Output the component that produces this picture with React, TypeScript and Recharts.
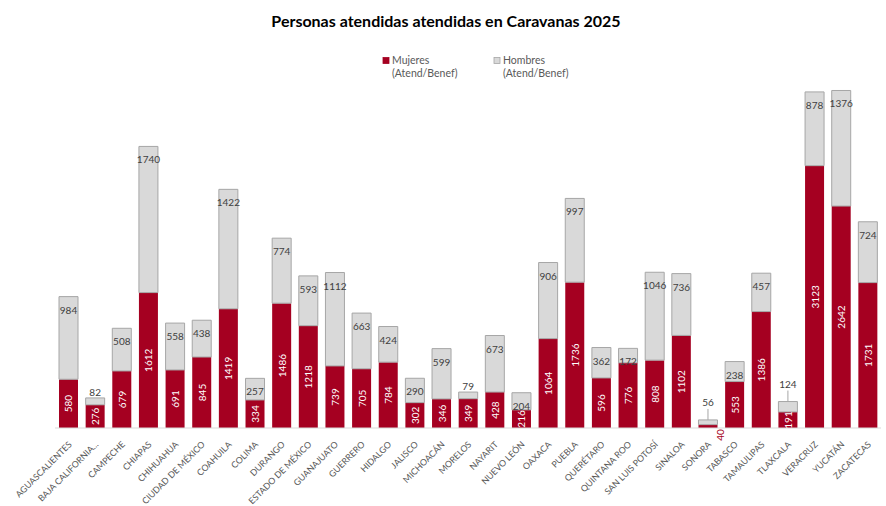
import { Bar, BarChart, XAxis, YAxis } from "recharts"

const estados = [
  "AGUASCALIENTES", "BAJA CALIFORNIA SUR", "CAMPECHE", "CHIAPAS", "CHIHUAHUA",
  "CIUDAD DE MÉXICO", "COAHUILA", "COLIMA", "DURANGO", "ESTADO DE MÉXICO",
  "GUANAJUATO", "GUERRERO", "HIDALGO", "JALISCO", "MICHOACÁN", "MORELOS",
  "NAYARIT", "NUEVO LEÓN", "OAXACA", "PUEBLA", "QUERÉTARO", "QUINTANA ROO",
  "SAN LUIS POTOSÍ", "SINALOA", "SONORA", "TABASCO", "TAMAULIPAS", "TLAXCALA",
  "VERACRUZ", "YUCATÁN", "ZACATECAS",
]

const mujeres = [
  580, 276, 679, 1612, 691, 845, 1419, 334, 1486, 1218, 739, 705, 784, 302, 346,
  349, 428, 216, 1064, 1736, 596, 776, 808, 1102, 40, 553, 1386, 191, 3123, 2642, 1731,
]

const hombres = [
  984, 82, 508, 1740, 558, 438, 1422, 257, 774, 593, 1112, 663, 424, 290, 599,
  79, 673, 204, 906, 997, 362, 172, 1046, 736, 56, 238, 457, 124, 878, 1376, 724,
]

// labels that Excel pulled up with a leader line
const conLinea = ["SONORA", "TLAXCALA"]

const ROJO = "#A50021"
const GRIS = "#D9D9D9"
const FONT = "Lato, 'Open Sans', sans-serif"

const data = estados.map((name, i) => ({ name, mujeres: mujeres[i], hombres: hombres[i] }))

const EstadoTick = ({ x, y, payload }: any) => {
  const v: string = payload.value
  const t = v.length > 18 ? v.slice(0, 15) + "..." : v
  return (
    <text
      transform={`translate(${x + 4},${y + 9}) rotate(-45)`}
      textAnchor="end"
      fill="#595959"
      fontSize={8.8}
      fontFamily={FONT}
    >
      {t}
    </text>
  )
}

const MujeresLabel = ({ x, y, width, height, index }: any) => {
  const value = mujeres[index]
  const cx = x + width / 2
  if (height < 8) {
    // too small, Excel puts it under the axis in series colour
    const lx = x + width + 2.5
    const ly = y + height + 7
    return (
      <text x={lx} y={ly} transform={`rotate(-90, ${lx}, ${ly})`} textAnchor="middle"
        dominantBaseline="central" fill={ROJO} fontSize={10} fontFamily={FONT}>
        {value}
      </text>
    )
  }
  const cy = y + height / 2
  return (
    <text x={cx} y={cy} transform={`rotate(-90, ${cx}, ${cy})`} textAnchor="middle"
      dominantBaseline="central" fill="#fff" fontSize={10} fontFamily={FONT}>
      {value}
    </text>
  )
}

const HombresLabel = ({ x, y, width, height, index }: any) => {
  const value = hombres[index]
  const cx = x + width / 2
  if (height < 12) {
    const leader = conLinea.includes(estados[index])
    const by = leader ? y - 14 : y - 2
    return (
      <g>
        {leader && <line x1={cx} x2={cx} y1={by + 3} y2={y} stroke="#A6A6A6" strokeWidth={1} />}
        <text x={cx} y={by} textAnchor="middle" fill="#404040" fontSize={10} fontFamily={FONT}>
          {value}
        </text>
      </g>
    )
  }
  return (
    <text x={cx} y={y + 17} textAnchor="middle" fill="#404040" fontSize={10} fontFamily={FONT}>
      {value}
    </text>
  )
}

const leyenda = [
  { name: "Mujeres", color: ROJO, x: 383 },
  { name: "Hombres", color: GRIS, x: 494 },
]

export default function App() {
  return (
    <div style={{ position: "absolute", left: 0, top: 0, width: 886, height: 506, background: "#fff" }}>
      <BarChart
        width={886}
        height={506}
        data={data}
        margin={{ top: 50, right: 5, bottom: 0, left: 55 }}
        barSize={19}
      >
        <XAxis
          dataKey="name"
          interval={0}
          height={78}
          tickLine={false}
          axisLine={{ stroke: "#D9D9D9" }}
          tick={<EstadoTick />}
        />
        <YAxis hide domain={[0, 4500]} />
        <Bar dataKey="mujeres" stackId="a" fill={ROJO} isAnimationActive={false} label={<MujeresLabel />} />
        <Bar dataKey="hombres" stackId="a" fill={GRIS} stroke="#A6A6A6" strokeWidth={1}
          isAnimationActive={false} label={<HombresLabel />} />
      </BarChart>
      <svg width={886} height={90} style={{ position: "absolute", left: 0, top: 0, pointerEvents: "none" }}>
        <text x={446} y={27} textAnchor="middle" fontWeight={700} fontSize={16} fill="#000" fontFamily={FONT}>
          Personas atendidas atendidas en Caravanas 2025
        </text>
        {leyenda.map((l) => (
          <g key={l.name}>
            <rect x={l.x} y={57.5} width={6} height={6} fill={l.color} stroke={l.color === GRIS ? "#A6A6A6" : l.color} strokeWidth={0.8} />
            <text x={l.x + 9} y={64} fontSize={10.5} fill="#595959" fontFamily={FONT}>{l.name}</text>
            <text x={l.x + 9} y={77} fontSize={10.5} fill="#595959" fontFamily={FONT}>(Atend/Benef)</text>
          </g>
        ))}
      </svg>
    </div>
  )
}
